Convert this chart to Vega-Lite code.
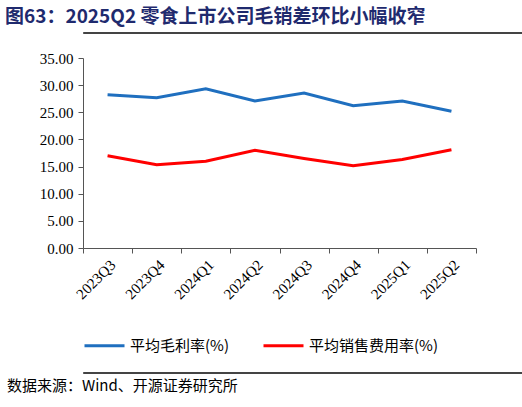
{
  "$schema": "https://vega.github.io/schema/vega-lite/v6.json",
  "padding": {"left": 5, "right": 5, "top": 7, "bottom": 2},
  "background": "white",
  "title": {
    "text": "图63：2025Q2 零食上市公司毛销差环比小幅收窄",
    "anchor": "start",
    "font": "Noto Sans CJK SC",
    "fontSize": 19,
    "fontWeight": "bold",
    "color": "#1F2A6E",
    "offset": 5
  },
  "datasets": {
    "main": [
      {"q": "2023Q3", "series": "平均毛利率(%)", "value": 28.24},
      {"q": "2023Q4", "series": "平均毛利率(%)", "value": 27.7},
      {"q": "2024Q1", "series": "平均毛利率(%)", "value": 29.35},
      {"q": "2024Q2", "series": "平均毛利率(%)", "value": 27.07},
      {"q": "2024Q3", "series": "平均毛利率(%)", "value": 28.55},
      {"q": "2024Q4", "series": "平均毛利率(%)", "value": 26.2},
      {"q": "2025Q1", "series": "平均毛利率(%)", "value": 27.07},
      {"q": "2025Q2", "series": "平均毛利率(%)", "value": 25.2},
      {"q": "2023Q3", "series": "平均销售费用率(%)", "value": 17.0},
      {"q": "2023Q4", "series": "平均销售费用率(%)", "value": 15.35},
      {"q": "2024Q1", "series": "平均销售费用率(%)", "value": 16.0},
      {"q": "2024Q2", "series": "平均销售费用率(%)", "value": 18.0},
      {"q": "2024Q3", "series": "平均销售费用率(%)", "value": 16.5},
      {"q": "2024Q4", "series": "平均销售费用率(%)", "value": 15.15},
      {"q": "2025Q1", "series": "平均销售费用率(%)", "value": 16.3},
      {"q": "2025Q2", "series": "平均销售费用率(%)", "value": 18.1}
    ]
  },
  "config": {
    "font": "Liberation Serif"
  },
  "spacing": 17,
  "resolve": {"legend": {"color": "independent"}},
  "vconcat": [
    {
      "width": 440,
      "height": 1,
      "view": {"stroke": "#444444", "strokeWidth": 1, "fill": "#444444"},
      "data": {"values": []},
      "mark": {"type": "rule"},
      "encoding": {}
    },
    {
      "width": 393,
      "height": 190,
      "view": {"stroke": null},
      "data": {"name": "main"},
      "mark": {"type": "line", "strokeWidth": 3},
      "encoding": {
        "x": {
          "field": "q",
          "type": "ordinal",
          "bandPosition": 0.5,
          "scale": {"type": "band", "paddingInner": 0, "paddingOuter": 0},
          "axis": {
            "title": null,
            "labelAngle": -45,
            "labelFont": "Liberation Serif",
            "labelFontSize": 15,
            "labelColor": "#000000",
            "tickBand": "extent",
            "tickColor": "#555555",
            "domainColor": "#555555",
            "tickSize": 5,
            "labelPadding": 4
          }
        },
        "y": {
          "field": "value",
          "type": "quantitative",
          "scale": {"domain": [0, 35]},
          "axis": {
            "title": null,
            "values": [0, 5, 10, 15, 20, 25, 30, 35],
            "format": ".2f",
            "grid": false,
            "labelFont": "Liberation Serif",
            "labelFontSize": 15,
            "labelColor": "#000000",
            "tickColor": "#555555",
            "domainColor": "#555555",
            "tickSize": 5,
            "labelPadding": 5,
            "minExtent": 78
          }
        },
        "color": {
          "field": "series",
          "type": "nominal",
          "scale": {"domain": ["平均毛利率(%)", "平均销售费用率(%)"], "range": ["#1F6FBF", "#FF0000"]},
          "legend": {
            "title": null,
            "orient": "bottom",
            "direction": "horizontal",
            "symbolType": "stroke",
            "symbolSize": 1600,
            "symbolStrokeWidth": 3,
            "labelFont": "Noto Sans CJK SC",
            "labelFontSize": 15,
            "labelColor": "#000000",
            "columnPadding": 28,
            "offset": 22,
            "padding": 0,
            "labelLimit": 300
          }
        }
      }
    },
    {
      "width": 440,
      "height": 1,
      "view": {"stroke": "#444444", "strokeWidth": 1, "fill": "#444444"},
      "data": {"values": []},
      "mark": {"type": "rule"},
      "encoding": {},
      "title": {
        "text": "数据来源：Wind、开源证券研究所",
        "orient": "bottom",
        "anchor": "start",
        "dx": -76,
        "font": "Noto Sans CJK SC",
        "fontSize": 15,
        "fontWeight": "normal",
        "color": "#000000",
        "offset": 6
      }
    }
  ]
}
